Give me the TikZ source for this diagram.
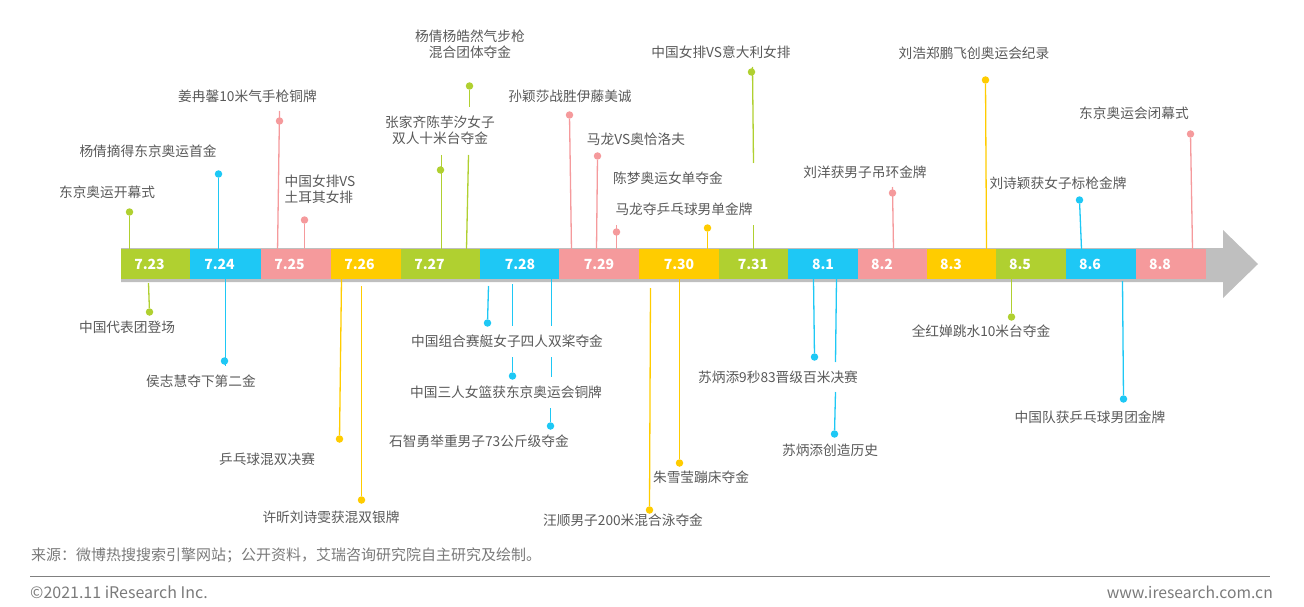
\documentclass[tikz,border=0pt]{standalone}
\usepackage{fontspec}
\setmainfont{Noto Sans CJK SC}
\usetikzlibrary{positioning,shapes,arrows}

\definecolor{mygreen}{HTML}{B0D030}
\definecolor{myblue}{HTML}{1EC8F5}
\definecolor{mypink}{HTML}{F59A9C}
\definecolor{myyellow}{HTML}{FFCC00}
\definecolor{mygrey}{HTML}{BFBFBF}
\definecolor{mytext}{HTML}{595959}

\begin{document}
\begin{tikzpicture}[
		  x=1pt,y=-1pt,
		  daynode/.style={minimum height=30pt,inner sep=0pt,outer sep=0pt,anchor=north west},
		  daytext/.style={text=white,font=\fontsize{14pt}{16pt}\selectfont\bfseries,inner sep=0pt},
		  mytext/.style={text=mytext,font=\fontsize{13.7pt}{16pt}\selectfont,align=center,inner sep=0pt},
		  dotg/.style={circle,fill=mygreen,minimum size=7.5pt,inner sep=0pt},
		  dotb/.style={circle,fill=myblue,minimum size=7.5pt,inner sep=0pt},
		  dotp/.style={circle,fill=mypink,minimum size=7.5pt,inner sep=0pt},
		  doty/.style={circle,fill=myyellow,minimum size=7.5pt,inner sep=0pt},
		  lineg/.style={draw=mygreen,line width=1.3pt},
		  lineb/.style={draw=myblue,line width=1.3pt},
		  linep/.style={draw=mypink,line width=1.3pt},
		  liney/.style={draw=myyellow,line width=1.3pt},
		  footnode/.style={text=mytext!80,inner sep=0pt}
		]
		\useasboundingbox (0,0) rectangle (1304,607);
		% arrow
		\fill[mygrey] (121,248) -- (1223,248) -- (1223,230) -- (1258,264) -- (1223,298) -- (1223,282) -- (121,282) -- cycle;
		% days
		\node[daynode,minimum width=69pt,fill=mygreen] (d723) at (121,249) {};
		\node[daynode,minimum width=71pt,fill=myblue] (d724) at (190,249) {};
		\node[daynode,minimum width=70pt,fill=mypink] (d725) at (261,249) {};
		\node[daynode,minimum width=70pt,fill=myyellow] (d726) at (331,249) {};
		\node[daynode,minimum width=79pt,fill=mygreen] (d727) at (401,249) {};
		\node[daynode,minimum width=79pt,fill=myblue] (d728) at (480,249) {};
		\node[daynode,minimum width=80pt,fill=mypink] (d729) at (559,249) {};
		\node[daynode,minimum width=80pt,fill=myyellow] (d730) at (639,249) {};
		\node[daynode,minimum width=69pt,fill=mygreen] (d731) at (719,249) {};
		\node[daynode,minimum width=70pt,fill=myblue] (d81) at (788,249) {};
		\node[daynode,minimum width=69pt,fill=mypink] (d82) at (858,249) {};
		\node[daynode,minimum width=69pt,fill=myyellow] (d83) at (927,249) {};
		\node[daynode,minimum width=70pt,fill=mygreen] (d85) at (996,249) {};
		\node[daynode,minimum width=70pt,fill=myblue] (d86) at (1066,249) {};
		\node[daynode,minimum width=70pt,fill=mypink] (d88) at (1136,249) {};
		\node[daytext] (t723) at (149.5,264) {7.23};
		\node[daytext] (t724) at (219.5,264) {7.24};
		\node[daytext] (t725) at (289.5,264) {7.25};
		\node[daytext] (t726) at (359.5,264) {7.26};
		\node[daytext] (t727) at (429.5,264) {7.27};
		\node[daytext] (t728) at (520,264) {7.28};
		\node[daytext] (t729) at (599,264) {7.29};
		\node[daytext] (t730) at (679,264) {7.30};
		\node[daytext] (t731) at (753,264) {7.31};
		\node[daytext] (t81) at (823,264) {8.1};
		\node[daytext] (t82) at (882,264) {8.2};
		\node[daytext] (t83) at (951,264) {8.3};
		\node[daytext] (t85) at (1020,264) {8.5};
		\node[daytext] (t86) at (1090,264) {8.6};
		\node[daytext] (t88) at (1160,264) {8.8};
		% top
		\node[mytext] (open) at (107,192) {东京奥运开幕式};
		\node[dotg] (openD) at (129.5,212) {};
		\coordinate (openE) at (129.5,249);
		\node[mytext] (yangq) at (148,151) {杨倩摘得东京奥运首金};
		\node[dotb] (yangqD) at (218.5,174) {};
		\coordinate (yangqE) at (218.5,254);
		\node[mytext] (jiang) at (247.5,96) {姜冉馨10米气手枪铜牌};
		\node[dotp] (jiangD) at (279.5,121) {};
		\coordinate (jiangS) at (279.5,111);
		\coordinate (jiangE) at (277.5,253);
		\node[mytext,align=left] (tur) at (320,189) {中国女排VS\\土耳其女排};
		\node[dotp] (turD) at (304.5,220) {};
		\coordinate (turE) at (304.5,252);
		\node[mytext] (zhang) at (440,130) {张家齐陈芋汐女子\\双人十米台夺金};
		\node[dotg] (zhangD) at (440.5,170) {};
		\coordinate (zhangS) at (441.5,155);
		\coordinate (zhangE) at (441.5,249);
		\node[mytext] (rifle) at (470,44) {杨倩杨皓然气步枪\\混合团体夺金};
		\node[dotg] (rifleD) at (469.5,86) {};
		\coordinate (rifleA) at (469.5,107);
		\coordinate (rifleB) at (468.5,155);
		\coordinate (rifleE) at (466.5,249);
		\node[mytext] (sun) at (570,96) {孙颖莎战胜伊藤美诚};
		\node[dotp] (sunD) at (569.5,115) {};
		\coordinate (sunE) at (571.5,251);
		\node[mytext] (malong) at (636,139) {马龙VS奥恰洛夫};
		\node[dotp] (malongD) at (597.5,156) {};
		\coordinate (malongE) at (596.5,250);
		\node[mytext] (chen) at (668,178) {陈梦奥运女单夺金};
		\node[dotp] (chenD) at (616.5,232) {};
		\coordinate (chenS) at (616.5,225);
		\coordinate (chenE) at (616.5,249);
		\node[mytext] (mens) at (684,209) {马龙夺乒乓球男单金牌};
		\node[doty] (mensD) at (707.5,228) {};
		\coordinate (mensE) at (707.5,249);
		\node[mytext] (ita) at (721,52) {中国女排VS意大利女排};
		\node[dotg] (itaD) at (751.5,72) {};
		\coordinate (itaS) at (752.5,67);
		\coordinate (itaA) at (753.5,163);
		\coordinate (itaB) at (753.5,225);
		\coordinate (itaE) at (753.5,249);
		\node[mytext] (liuy) at (865,172) {刘洋获男子吊环金牌};
		\node[dotp] (liuyD) at (892.5,193) {};
		\coordinate (liuyS) at (892.5,187);
		\coordinate (liuyE) at (893.5,249);
		\node[mytext] (liuh) at (974,53) {刘浩郑鹏飞创奥运会纪录};
		\node[doty] (liuhD) at (985.5,80) {};
		\coordinate (liuhE) at (986.5,249);
		\node[mytext] (liush) at (1058,183) {刘诗颖获女子标枪金牌};
		\node[dotb] (liushD) at (1079.5,200) {};
		\coordinate (liushE) at (1081.5,249);
		\node[mytext] (close) at (1134,113) {东京奥运会闭幕式};
		\node[dotp] (closeD) at (1190.5,134) {};
		\coordinate (closeE) at (1192.5,249);
		% bottom
		\node[mytext] (team) at (127,327) {中国代表团登场};
		\node[dotg] (teamD) at (149.5,312) {};
		\coordinate (teamS) at (148.5,283);
		\node[mytext] (hou) at (201,381) {侯志慧夺下第二金};
		\node[dotb] (houD) at (224.5,361) {};
		\coordinate (houS) at (225.5,279);
		\coordinate (houE) at (225.5,366);
		\node[mytext] (mix) at (267,459) {乒乓球混双决赛};
		\node[doty] (mixD) at (339.5,439) {};
		\coordinate (mixS) at (341.5,279);
		\node[mytext] (xu) at (331,517) {许昕刘诗雯获混双银牌};
		\node[doty] (xuD) at (361.5,500) {};
		\coordinate (xuS) at (361.5,286);
		\node[mytext] (row) at (507,341) {中国组合赛艇女子四人双桨夺金};
		\node[dotb] (rowD) at (487.5,323) {};
		\coordinate (rowS) at (488.5,286);
		\node[mytext] (bask) at (506,392) {中国三人女篮获东京奥运会铜牌};
		\node[dotb] (baskD) at (512.5,376) {};
		\coordinate (baskS) at (512.5,284);
		\coordinate (baskA) at (512.5,326);
		\coordinate (baskB) at (512.5,357);
		\node[mytext] (shi) at (479,441) {石智勇举重男子73公斤级夺金};
		\node[dotb] (shiD) at (550.5,426) {};
		\coordinate (shiS) at (551.5,279);
		\coordinate (shiA) at (551.5,326);
		\coordinate (shiB) at (551.5,357);
		\coordinate (shiC) at (551.5,377);
		\coordinate (shiF) at (550.5,408);
		\node[mytext] (zhu) at (701,477) {朱雪莹蹦床夺金};
		\node[doty] (zhuD) at (679.5,463) {};
		\coordinate (zhuS) at (679.5,279);
		\node[mytext] (wang) at (623,520) {汪顺男子200米混合泳夺金};
		\node[doty] (wangD) at (649.5,510) {};
		\coordinate (wangS) at (650.5,288);
		\node[mytext] (su) at (778,377) {苏炳添9秒83晋级百米决赛};
		\node[dotb] (suD) at (814.5,357) {};
		\coordinate (suS) at (813.5,279);
		\node[mytext] (hist) at (830,450) {苏炳添创造历史};
		\node[dotb] (histD) at (834.5,434) {};
		\coordinate (histS) at (836.5,279);
		\coordinate (histA) at (835.5,362);
		\coordinate (histB) at (835.5,392);
		\node[mytext] (quan) at (981,331) {全红婵跳水10米台夺金};
		\node[dotg] (quanD) at (1011.5,317) {};
		\coordinate (quanS) at (1011.5,279);
		\node[mytext] (mteam) at (1090,417) {中国队获乒乓球男团金牌};
		\node[dotb] (mteamD) at (1123.5,399) {};
		\coordinate (mteamS) at (1122.5,281);
		\path (openD) edge[lineg] (openE)
			(yangqD) edge[lineb] (yangqE)
			(jiangS) edge[linep] (jiangE)
			(turD) edge[linep] (turE)
			(zhangS) edge[lineg] (zhangE)
			(rifleD) edge[lineg] (rifleA)
			(rifleB) edge[lineg] (rifleE)
			(sunD) edge[linep] (sunE)
			(malongD) edge[linep] (malongE)
			(chenS) edge[linep] (chenE)
			(mensD) edge[liney] (mensE)
			(itaS) edge[lineg] (itaA)
			(itaB) edge[lineg] (itaE)
			(liuyS) edge[linep] (liuyE)
			(liuhD) edge[liney] (liuhE)
			(liushD) edge[lineb] (liushE)
			(closeD) edge[linep] (closeE)
			(teamS) edge[lineg] (teamD)
			(houS) edge[lineb] (houE)
			(mixS) edge[liney] (mixD)
			(xuS) edge[liney] (xuD)
			(rowS) edge[lineb] (rowD)
			(baskS) edge[lineb] (baskA)
			(baskB) edge[lineb] (baskD)
			(shiS) edge[lineb] (shiA)
			(shiB) edge[lineb] (shiC)
			(shiF) edge[lineb] (shiD)
			(zhuS) edge[liney] (zhuD)
			(wangS) edge[liney] (wangD)
			(suS) edge[lineb] (suD)
			(histS) edge[lineb] (histA)
			(histB) edge[lineb] (histD)
			(quanS) edge[lineg] (quanD)
			(mteamS) edge[lineb] (mteamD);
		% footer
		\node[footnode,anchor=west,font=\fontsize{15pt}{16pt}\selectfont] (source) at (31,555) {来源：微博热搜搜索引擎网站；公开资料，艾瑞咨询研究院自主研究及绘制。};
		\coordinate (ruleL) at (30,576.5);
		\coordinate (ruleR) at (1270,576.5);
		\draw[draw=black!50,line width=1pt] (ruleL) -- (ruleR);
		\node[footnode,anchor=west,font=\fontsize{16pt}{18pt}\selectfont] (copy) at (30,592) {©2021.11 iResearch Inc.};
		\node[footnode,anchor=east,font=\fontsize{15.7pt}{18pt}\selectfont] (web) at (1273,592) {www.iresearch.com.cn};
		\end{tikzpicture}
\end{document}
